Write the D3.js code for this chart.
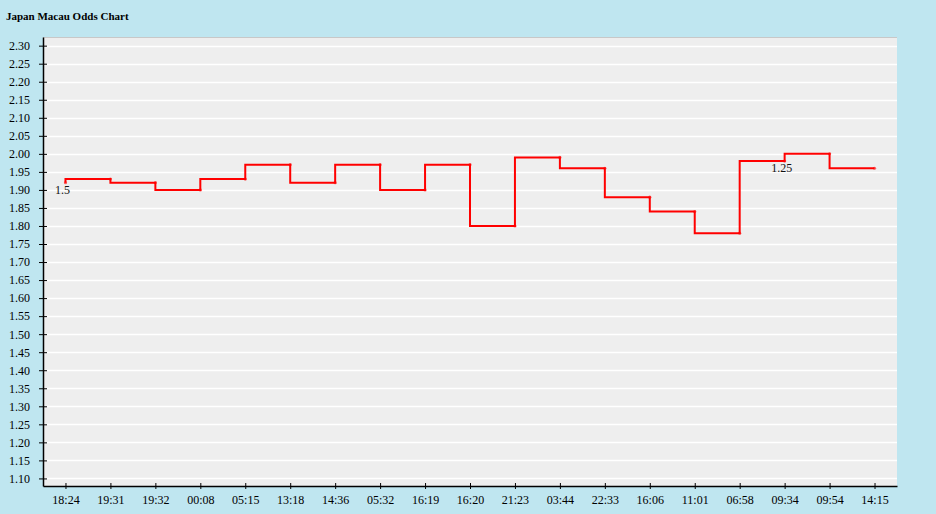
<!DOCTYPE html>
<html>
<head>
<meta charset="utf-8">
<script src="https://cdn.jsdelivr.net/npm/d3@7"></script>
<style>
	body { margin: 0; background: #bfe6f0; overflow: hidden; }
	svg { display: block; font-family: "Liberation Serif", "DejaVu Serif", serif; }
	.axis path, .axis line { stroke: #000; }
	.axis text { fill: #000; font-size: 12px; font-family: "Liberation Serif", serif; }
</style>
</head>
<body>
<svg id="chart" width="936" height="514"></svg>
<script>
// 时间点（x轴）
const times = ['18:24', '19:31', '19:32', '00:08', '05:15', '13:18', '14:36', '05:32', '16:19', '16:20',
	'21:23', '03:44', '22:33', '16:06', '11:01', '06:58', '09:34', '09:54', '14:15']
// 赔率
const odds = [1.92, 1.93, 1.92, 1.90, 1.93, 1.97, 1.92, 1.97, 1.90, 1.97,
	1.80, 1.99, 1.96, 1.88, 1.84, 1.78, 1.98, 2.00, 1.96]
// 盘口变化标注
const handicaps = ['1.5', null, null, null, null, null, null, null, null, null,
	null, null, null, null, null, null, '1.25', null, null]
const yTicks = d3.range(110, 231, 5).map(d => d / 100)

const width = 936, height = 514
const padding = { top: 37, bottom: 28, left: 43, right: 39 }

let svg = d3.select('#chart')

svg.append('text')
	.attr('x', 6)
	.attr('y', 20)
	.attr('font-size', 11)
	.attr('font-weight', 'bold')
	.text('Japan Macau Odds Chart')

let scaleX = d3.scalePoint()
	.domain(times)
	.range([padding.left, width - padding.right])
	.padding(0.5)
let scaleY = d3.scaleLinear()
	.domain([1.079, 2.324])
	.range([height - padding.bottom, padding.top])

// 背景
svg.append('rect')
	.attr('x', padding.left)
	.attr('y', padding.top)
	.attr('width', width - padding.left - padding.right)
	.attr('height', height - padding.top - padding.bottom)
	.attr('fill', '#eeeeee')
svg.append('line')
	.attr('x1', padding.left).attr('x2', width - padding.right)
	.attr('y1', padding.top + 0.5).attr('y2', padding.top + 0.5)
	.attr('stroke', '#c8c8c8')

// 网格线
svg.append('g')
	.selectAll('line')
	.data(yTicks)
	.join('line')
	.attr('x1', padding.left)
	.attr('x2', width - padding.right)
	.attr('y1', d => Math.round(scaleY(d)) + 0.5)
	.attr('y2', d => Math.round(scaleY(d)) + 0.5)
	.attr('stroke', '#fff')
	.attr('stroke-width', 1.5)

let xAxis = svg.append('g')
	.attr('class', 'axis')
	.attr('transform', `translate(0,${height - padding.bottom})`)
	.call(d3.axisBottom(scaleX).tickSizeInner(3).tickSizeOuter(0).tickPadding(6))
xAxis.selectAll('.tick line').attr('y1', -3)
xAxis.select('.domain').attr('stroke-width', 1.5)

let yAxis = svg.append('g')
	.attr('class', 'axis')
	.attr('transform', `translate(${padding.left},0)`)
	.call(d3.axisLeft(scaleY).tickValues(yTicks).tickFormat(d3.format('.2f')).tickSizeInner(4).tickSizeOuter(0).tickPadding(9))
yAxis.selectAll('.tick line').attr('x1', 4).attr('x2', -4)
yAxis.select('.domain').attr('stroke-width', 1.5)

let data = times.map((t, i) => ({ t, v: odds[i], h: handicaps[i] }))

let linePath = d3.line()
	.x(d => scaleX(d.t))
	.y(d => scaleY(d.v))
	.curve(d3.curveStepBefore)

svg.append('path')
	.attr('d', linePath(data))
	.attr('fill', 'none')
	.attr('stroke', '#ff0000')
	.attr('stroke-width', 2)

svg.append('g')
	.selectAll('circle')
	.data(data)
	.join('circle')
	.attr('cx', d => scaleX(d.t))
	.attr('cy', d => scaleY(d.v))
	.attr('r', 1.6)
	.attr('fill', '#ff0000')
	.attr('opacity', 0.6)

svg.append('g')
	.selectAll('text')
	.data(data.filter(d => d.h))
	.join('text')
	.attr('x', d => scaleX(d.t) - 3)
	.attr('y', d => scaleY(d.v) + 11)
	.attr('text-anchor', 'middle')
	.attr('font-size', 12)
	.attr('fill', '#111')
	.text(d => d.h)

// 底部图例（被截断）
svg.append('text')
	.attr('x', 4)
	.attr('y', 523)
	.attr('font-size', 12)
	.attr('fill', '#ff0000')
	.text('Open  Close  Live')
</script>
</body>
</html>
